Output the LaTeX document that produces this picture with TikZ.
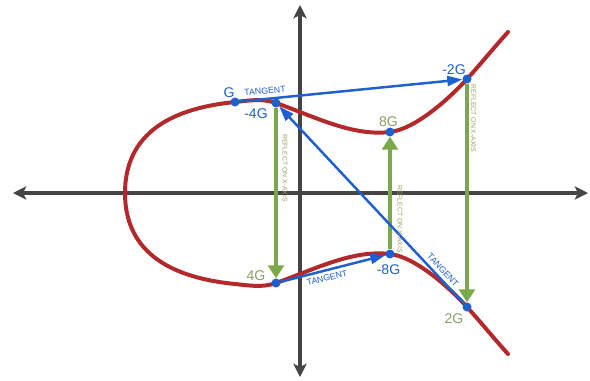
\documentclass[tikz,border=0pt]{standalone}
\usepackage{fontspec}
\setmainfont{Liberation Sans}
\usetikzlibrary{arrows.meta}
\definecolor{axisgray}{HTML}{444444}
\definecolor{curvered}{HTML}{B3292B}
\definecolor{ptblue}{HTML}{1F5FD0}
\definecolor{refgreen}{HTML}{7BA84A}
\definecolor{lblgreen}{HTML}{889F62}
\definecolor{txtolive}{HTML}{98A55E}
\begin{document}
\begin{tikzpicture}[x=0.03cm,y=-0.03cm,
  axisline/.style={draw=axisgray,line width=3.8pt,
    {Stealth[length=0.4cm,width=0.4cm,inset=0.1cm]}-{Stealth[length=0.4cm,width=0.4cm,inset=0.1cm]}},
  curveline/.style={draw=curvered,line width=3.4pt,line cap=round},
  dot/.style={circle,fill=ptblue,inner sep=0pt,minimum size=0.27cm},
  tanarrow/.style={draw=ptblue,line width=2.1pt,-{Triangle[length=0.45cm,width=0.3cm]}},
  refarrow/.style={draw=refgreen,line width=2.6pt,-{Triangle[length=0.39cm,width=0.48cm]}},
  bluelbl/.style={text=ptblue,font=\fontsize{12}{12}\selectfont,inner sep=0pt},
  greenlbl/.style={text=lblgreen,font=\fontsize{12}{12}\selectfont,inner sep=0pt},
  tanlbl/.style={text=ptblue,font=\fontsize{7.5}{7.5}\selectfont,inner sep=0pt},
  reflbl/.style={text=txtolive,font=\fontsize{5.8}{5.8}\selectfont,inner sep=0pt,rotate=-90}
]
\useasboundingbox (0,0) rectangle (590,380);
% axes
\coordinate (xl) at (13,193);
\coordinate (xr) at (588,193);
\coordinate (yt) at (300,5);
\coordinate (yb) at (300,377);
\draw[axisline] (xl) -- (xr);
\draw[axisline] (yb) -- (yt);
% curve points
\coordinate (left) at (125,193);
\coordinate (pG) at (235,102);
\coordinate (pm4G) at (276,103);
\coordinate (p8G) at (390,132);
\coordinate (pm2G) at (467,79);
\coordinate (ptop) at (508,32);
\coordinate (p4G) at (276,283);
\coordinate (pm8G) at (390,254);
\coordinate (p2G) at (467,307);
\coordinate (pbot) at (508,354);
% curve
\draw[curveline] (left) .. controls (125,125) and (185,107) .. (pG)
  .. controls (249,100.6) and (262,98.1) .. (pm4G)
  .. controls (314,116.3) and (352,136.5) .. (p8G)
  .. controls (416,128.9) and (450,97.7) .. (pm2G)
  .. controls (481,63.6) and (494,47.5) .. (ptop);
\draw[curveline] (left) .. controls (125,261) and (185,279) .. (235,284)
  .. controls (249,285.4) and (262,287.9) .. (p4G)
  .. controls (314,269.7) and (352,249.5) .. (pm8G)
  .. controls (416,257.1) and (450,288.3) .. (p2G)
  .. controls (481,322.4) and (494,338.5) .. (pbot);
% dots
\node[dot] (G) at (pG) {};
\node[dot] (m4G) at (pm4G) {};
\node[dot] (e8G) at (p8G) {};
\node[dot] (m2G) at (pm2G) {};
\node[dot] (f4G) at (p4G) {};
\node[dot] (m8G) at (pm8G) {};
\node[dot] (f2G) at (p2G) {};
% connectors
\draw[refarrow] (m4G) -- (f4G);
\draw[refarrow] (m8G) -- (e8G);
\draw[refarrow] (m2G) -- (f2G);
\draw[tanarrow] (G) -- (m2G);
\draw[tanarrow] (f2G) -- (m4G);
\draw[tanarrow] (f4G) -- (m8G);
% labels
\node[bluelbl] (lG) at (229,92.5) {G};
\node[bluelbl] (lm4G) at (256,114) {-4G};
\node[bluelbl] (lm2G) at (454,69.5) {-2G};
\node[greenlbl] (l8G) at (388.5,122) {8G};
\node[greenlbl] (l4G) at (256,276) {4G};
\node[bluelbl] (lm8G) at (388.5,269.5) {-8G};
\node[greenlbl] (l2G) at (454,319) {2G};
\node[tanlbl,rotate=5] (t1) at (265,91) {TANGENT};
\node[tanlbl,rotate=14] (t2) at (327,278) {TANGENT};
\node[tanlbl,rotate=-47] (t3) at (443,270) {TANGENT};
\node[reflbl] (r1) at (285,168) {REFLECT ON X-AXIS};
\node[reflbl] (r2) at (400,219) {REFLECT ON X-AXIS};
\node[reflbl] (r3) at (473.5,118.5) {REFLECT ON X-AXIS};
\end{tikzpicture}
\end{document}
